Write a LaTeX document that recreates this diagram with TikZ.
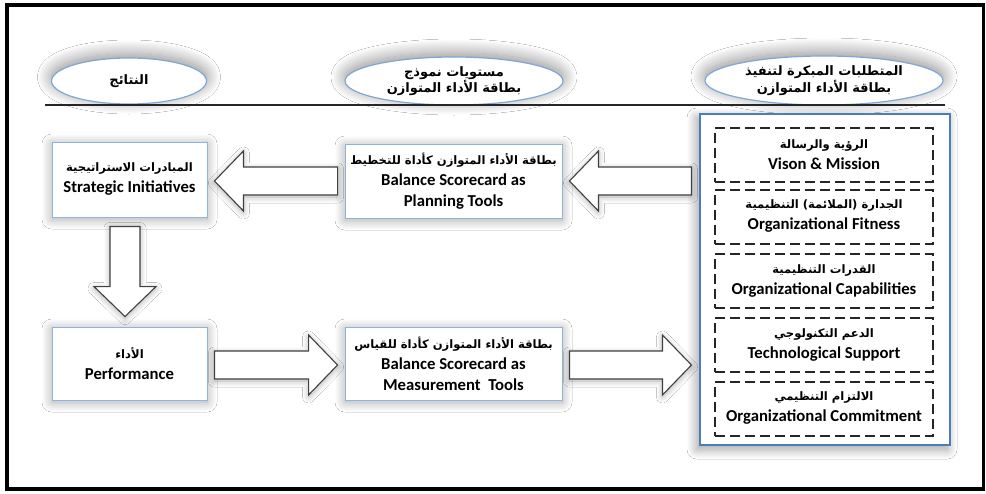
\documentclass[tikz,border=0pt]{standalone}
\usepackage{fontspec}
\setmainfont{Carlito}
\newfontfamily\arabicfont[Script=Arabic]{DejaVu Sans}
\TeXXeTstate=1
\usetikzlibrary{shapes.geometric,shadows.blur,calc}

\definecolor{ellblue}{HTML}{7FA7D6}
\definecolor{boxblue}{HTML}{8DB3E2}
\definecolor{contblue}{HTML}{4A7EBB}
\definecolor{arrgray}{HTML}{404040}
\definecolor{dashgray}{HTML}{262626}

% Arabic line, right to left
\newcommand\ar[1]{{\arabicfont\bfseries\fontsize{11.6}{21}\selectfont\beginR #1\endR}}
\newcommand\arhead[1]{{\arabicfont\bfseries\fontsize{13}{21}\selectfont\beginR #1\endR}}

% block arrows: #1 tip, #2 tail
\newcommand\leftblock[2]{%
  \draw[blockarr] (#1) -- ($(#1)+(29,-30)$) -- ($(#1)+(29,-14)$) -- ($(#1 -| #2)+(0,-14)$)
    -- ($(#1 -| #2)+(0,14)$) -- ($(#1)+(29,14)$) -- ($(#1)+(29,30)$) -- cycle;}
\newcommand\rightblock[2]{%
  \draw[blockarr] (#1) -- ($(#1)+(-29,-30)$) -- ($(#1)+(-29,-14)$) -- ($(#1 -| #2)+(0,-14)$)
    -- ($(#1 -| #2)+(0,14)$) -- ($(#1)+(-29,14)$) -- ($(#1)+(-29,30)$) -- cycle;}
\newcommand\downblock[2]{%
  \draw[blockarr] (#1) -- ($(#1)+(-31,-30)$) -- ($(#1)+(-15,-30)$) -- ($(#1 |- #2)+(-15,0)$)
    -- ($(#1 |- #2)+(15,0)$) -- ($(#1)+(15,-30)$) -- ($(#1)+(31,-30)$) -- cycle;}

\tikzset{
  headell/.style={ellipse, draw=ellblue, line width=1.2pt, fill=white, inner sep=0pt, align=center,
    blur shadow={shadow xshift=0pt, shadow yshift=4pt, shadow blur radius=14pt,
      shadow blur steps=25, shadow opacity=45}},
  stagebox/.style={rectangle, draw=boxblue, line width=0.9pt, fill=white, align=center, inner sep=0pt,
    font=\bfseries\fontsize{16.7}{21}\selectfont,
    blur shadow={shadow xshift=0pt, shadow yshift=-2pt, shadow blur radius=10pt,
      shadow blur steps=25, shadow opacity=35}},
  container/.style={rectangle, draw=contblue, line width=1.1pt, fill=white, inner sep=0pt,
    blur shadow={shadow xshift=-3pt, shadow yshift=-4pt, shadow blur radius=10pt,
      shadow blur steps=25, shadow opacity=40}},
  reqbox/.style={rectangle, draw=dashgray, line width=2pt, dash pattern=on 10pt off 5pt,
    minimum width=218pt, minimum height=54pt, align=center, inner sep=0pt,
    font=\bfseries\fontsize{16.7}{21}\selectfont},
  blockarr/.style={draw=arrgray, line width=1.1pt, fill=white, line join=miter,
    blur shadow={shadow xshift=0pt, shadow yshift=-2pt, shadow blur radius=6pt,
      shadow blur steps=15, shadow opacity=30}},
}

\begin{document}
\begin{tikzpicture}[x=1pt, y=-1pt]
\useasboundingbox (0,0) rectangle (986,493);
\fill[white] (0,0) rectangle (986,493);

% outer frame
\draw[black, line width=3.5pt] (7,5) rectangle (983.5,489);

% column headings
\node[headell, minimum width=155pt, minimum height=46pt] (h1) at (129,81) {\arhead{النتائج}};
\node[headell, minimum width=218pt, minimum height=48pt] (h2) at (454,81)
  {\arhead{مستويات نموذج}\\ \arhead{بطاقة الأداء المتوازن}};
\node[headell, minimum width=238pt, minimum height=49pt] (h3) at (824,80.5)
  {\arhead{المتطلبات المبكرة لتنفيذ}\\ \arhead{بطاقة الأداء المتوازن}};

% rule under the headings
\coordinate (rl) at (45,105);
\coordinate (rr) at (945,105);
\draw[black!85, line width=2pt] (rl) -- (rr);

% requirements column
\node[container, minimum width=250pt, minimum height=331pt] (cont) at (825,279.5) {};
\node[reqbox] (r1) at (824,154.5) {\ar{الرؤية والرسالة}\\ Vison \& Mission};
\node[reqbox] (r2) at (824,216.5) {\ar{الجدارة (الملائمة) التنظيمية}\\ Organizational Fitness};
\node[reqbox] (r3) at (824,281) {\ar{القدرات التنظيمية}\\ Organizational Capabilities};
\node[reqbox] (r4) at (824,345) {\ar{الدعم التكنولوجي}\\ Technological Support};
\node[reqbox] (r5) at (824,408.5) {\ar{الالتزام التنظيمي}\\ Organizational Commitment};

% stages
\node[stagebox, minimum width=155pt, minimum height=75pt] (si) at (129.5,179.5)
  {\ar{المبادرات الاستراتيجية}\\ Strategic Initiatives};
\node[stagebox, minimum width=217pt, minimum height=74pt] (plan) at (453.5,181)
  {\ar{بطاقة الأداء المتوازن كأداة للتخطيط}\\ Balance Scorecard as\\ Planning Tools};
\node[stagebox, minimum width=155pt, minimum height=73pt] (perf) at (129.5,363.5)
  {\ar{الأداء}\\ Performance};
\node[stagebox, minimum width=217pt, minimum height=73pt] (meas) at (453.5,363.5)
  {\ar{بطاقة الأداء المتوازن كأداة للقياس}\\ Balance Scorecard as\\ Measurement\ \ Tools};

% flow arrows
\coordinate (t1) at ($(plan.east)+(7,0)$);
\coordinate (e1) at ($(cont.west)+(-8,0)$);
\leftblock{t1}{e1}
\coordinate (t2) at ($(si.east)+(7,1.5)$);
\coordinate (e2) at ($(plan.west)+(-7,0)$);
\leftblock{t2}{e2}
\coordinate (t3) at ($(perf.north)+(-4.5,-10)$);
\coordinate (e3) at ($(si.south)+(0,9)$);
\downblock{t3}{e3}
\coordinate (t4) at ($(meas.west)+(-7,1.5)$);
\coordinate (e4) at ($(perf.east)+(7,0)$);
\rightblock{t4}{e4}
\coordinate (t5) at ($(cont.west |- meas.east)+(-8,1.5)$);
\coordinate (e5) at ($(meas.east)+(7,0)$);
\rightblock{t5}{e5}
\end{tikzpicture}
\end{document}
